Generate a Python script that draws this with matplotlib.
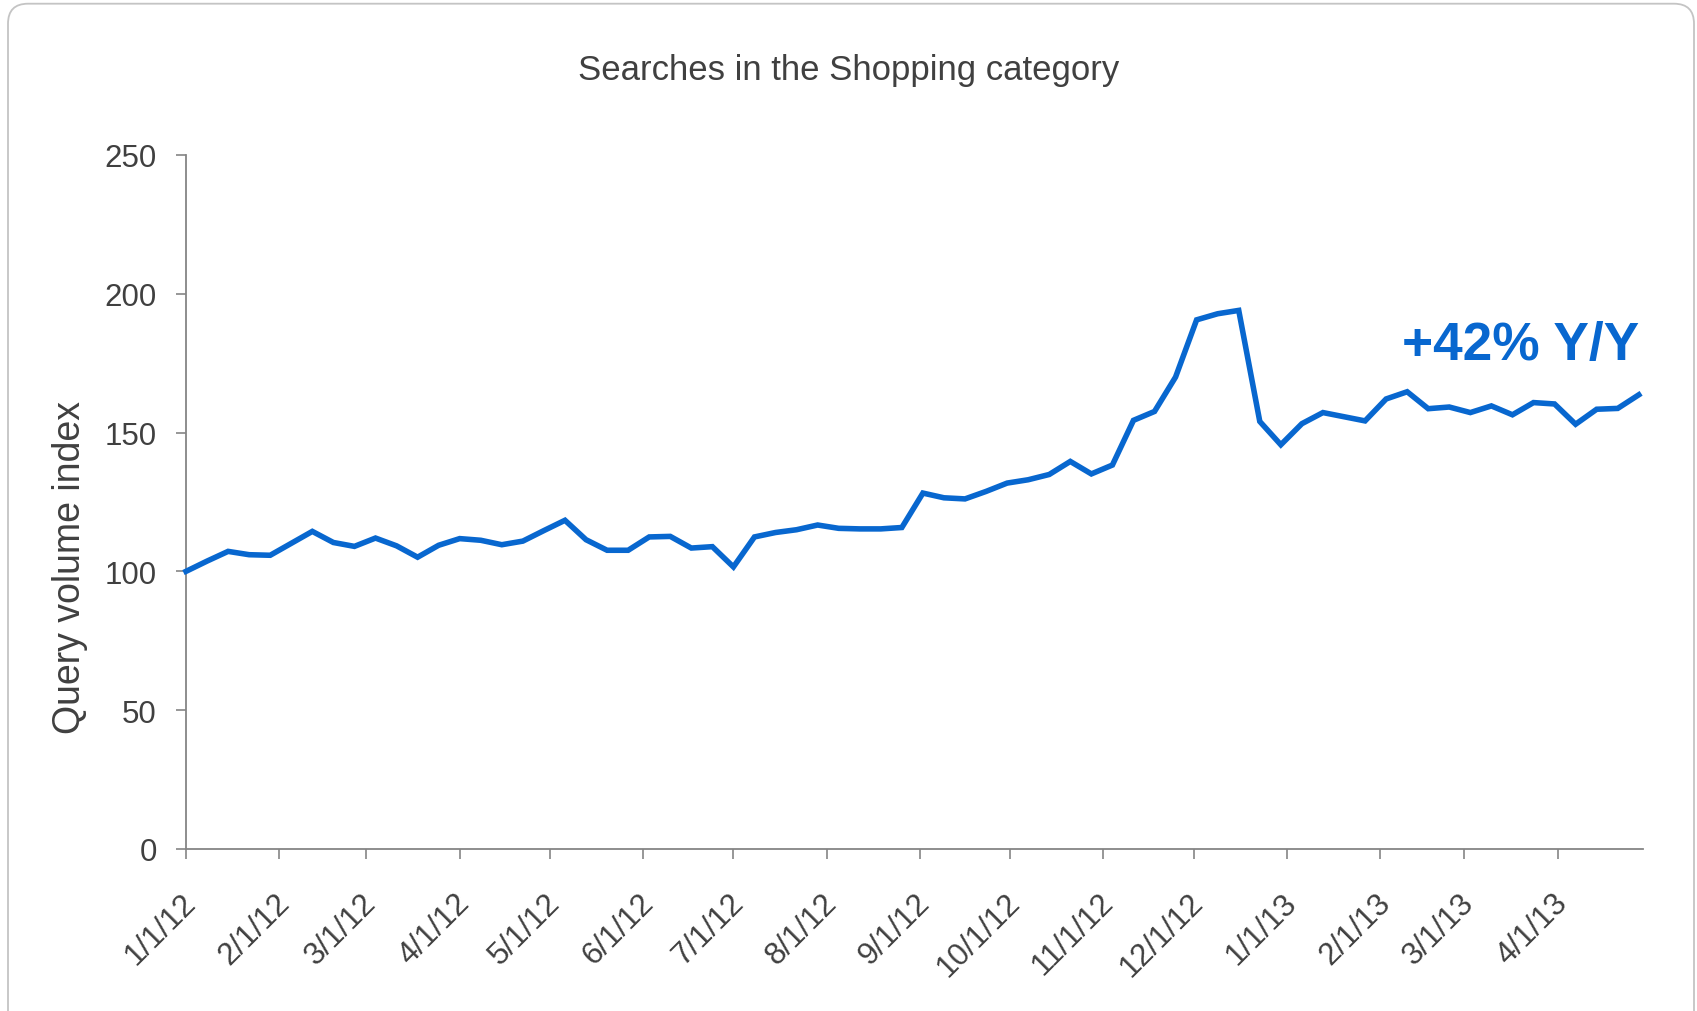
import pandas as pd
import matplotlib
matplotlib.use("Agg")
import matplotlib.pyplot as plt
import matplotlib.transforms as mtransforms
from matplotlib.patches import FancyBboxPatch

plt.rcParams["font.family"] = ["Liberation Sans", "DejaVu Sans"]

# weekly query volume index, week starting 2012-01-01
start = "2012-01-01"
index_values = [
    100.0, 103.7, 107.2, 106.0, 105.8, 110.1, 114.4, 110.4, 109.0, 112.0,
    109.2, 105.1, 109.4, 111.8, 111.2, 109.6, 110.9, 114.7, 118.4, 111.4,
    107.6, 107.6, 112.4, 112.6, 108.4, 108.9, 101.6, 112.4, 114.0, 115.0,
    116.7, 115.5, 115.3, 115.3, 115.8, 128.2, 126.5, 126.1, 128.8, 131.8,
    133.0, 134.9, 139.6, 135.1, 138.3, 154.4, 157.6, 170.0, 190.6, 192.8,
    194.0, 154.0, 145.6, 153.2, 157.2, 155.7, 154.2, 162.1, 164.7, 158.6,
    159.2, 157.2, 159.6, 156.4, 160.8, 160.3, 153.0, 158.4, 158.7, 163.6,
]
tick_dates = ["2012-01-01", "2012-02-01", "2012-03-01", "2012-04-01",
              "2012-05-01", "2012-06-01", "2012-07-01", "2012-08-01",
              "2012-09-01", "2012-10-01", "2012-11-01", "2012-12-01",
              "2013-01-01", "2013-02-01", "2013-03-01", "2013-04-01"]
tick_labels = ["1/1/12", "2/1/12", "3/1/12", "4/1/12", "5/1/12", "6/1/12",
               "7/1/12", "8/1/12", "9/1/12", "10/1/12", "11/1/12", "12/1/12",
               "1/1/13", "2/1/13", "3/1/13", "4/1/13"]
y_ticks = [0, 50, 100, 150, 200, 250]
yoy_label = "+42% Y/Y"

weeks = pd.date_range(start, periods=len(index_values), freq="7D")

blue = "#0867CF"
text_col = "#404040"
axis_col = "#858585"

fig = plt.figure(figsize=(16.97, 10.12), dpi=100)
ax = fig.add_axes([0.1096, 0.1601, 0.8586, 0.6858])

# rounded frame around the whole chart
frame = FancyBboxPatch((0.08, -0.5), 16.86, 10.573,
                       boxstyle="round,pad=0,rounding_size=0.2",
                       transform=fig.dpi_scale_trans, facecolor="none",
                       edgecolor="#c4c4c4", linewidth=1.3, clip_on=False)
fig.add_artist(frame)

ax.plot(weeks, index_values, color=blue, linewidth=4.0,
        solid_joinstyle="miter", clip_on=False, zorder=3)

ax.set_ylim(0, 250)
ax.set_yticks(y_ticks)
ax.set_xlim(pd.Timestamp("2012-01-01"), pd.Timestamp("2013-04-29 10:00"))
ax.set_xticks(pd.to_datetime(tick_dates))
ax.set_xticklabels(tick_labels)

for side in ["top", "right"]:
    ax.spines[side].set_visible(False)
for side in ["left", "bottom"]:
    ax.spines[side].set_color(axis_col)
    ax.spines[side].set_linewidth(1.3)

ax.tick_params(axis="both", colors=axis_col, labelcolor=text_col,
               labelsize=22.5, length=7, width=1.2, direction="out")
ax.tick_params(axis="y", pad=14)
ax.tick_params(axis="x", pad=28)

# slanted date labels, right end sitting just past each tick
shift = mtransforms.ScaledTranslation(4 / 72, 0, fig.dpi_scale_trans)
for lab in ax.get_xticklabels():
    lab.set_rotation(45)
    lab.set_ha("right")
    lab.set_va("center")
    lab.set_rotation_mode("anchor")
    lab.set_transform(lab.get_transform() + shift)

ax.set_ylabel("Query volume index", fontsize=27, color=text_col)
ax.yaxis.set_label_coords(-0.067, 0.407)

fig.text(0.5, 0.930, "Searches in the Shopping category", fontsize=25,
         color=text_col, ha="center", va="center")

ax.text(0.997, 176.5, yoy_label, transform=ax.get_yaxis_transform(),
        ha="right", va="baseline", fontsize=38.3, fontweight="bold", color=blue)

fig.savefig("out.png", dpi=100, facecolor="white")
